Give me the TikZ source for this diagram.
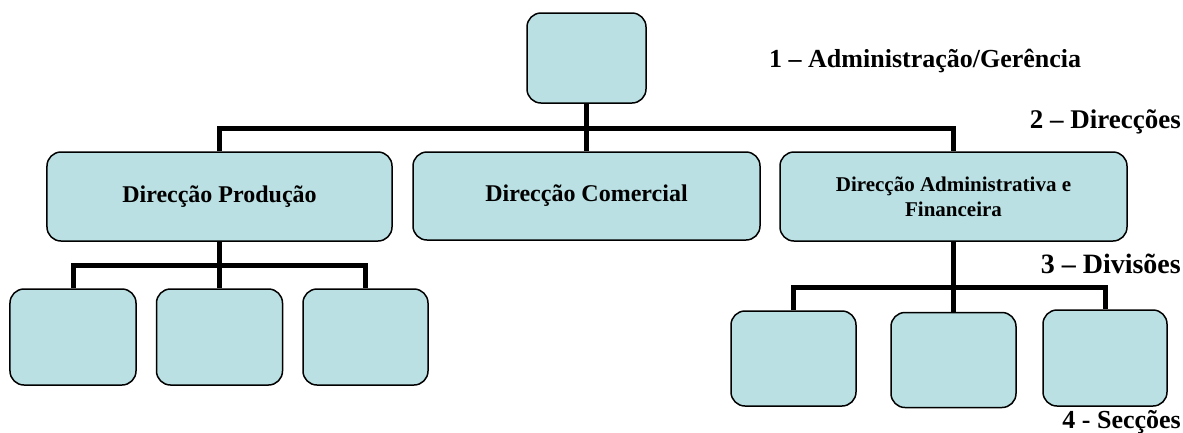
\documentclass[tikz,border=0pt]{standalone}
\usepackage{fontspec}
\setmainfont{Liberation Serif}
\definecolor{boxfill}{RGB}{186,224,227}
\begin{document}
\begin{tikzpicture}[x=1bp,y=-1bp,
  unit/.style={draw=black, line width=1.5bp, fill=boxfill, rounded corners=14bp,
    inner sep=0pt, align=center, font=\bfseries\fontsize{24bp}{28bp}\selectfont},
  link/.style={line width=5bp, line join=miter},
  level/.style={inner sep=0pt, font=\bfseries\fontsize{26bp}{30bp}\selectfont}]
\useasboundingbox (0,0) rectangle (1183,432);

% level 1
\node[unit, minimum width=119bp, minimum height=90bp] (top) at (586.5,58) {};

% level 2
\node[unit, minimum width=345bp, minimum height=89bp] (prod) at (219.5,196.5) {Direcção Produção};
\node[unit, minimum width=347bp, minimum height=88bp] (com) at (586.5,196) {Direcção Comercial};
\node[unit, minimum width=347bp, minimum height=89bp,
      font=\bfseries\fontsize{21bp}{25bp}\selectfont] (adm) at (953.5,196.5)
      {Direcção Administrativa e\\Financeira};

% level 3 under production
\node[unit, minimum width=126bp, minimum height=96bp] (l1) at (73,337) {};
\node[unit, minimum width=126bp, minimum height=96bp] (l2) at (219.5,337) {};
\node[unit, minimum width=125bp, minimum height=96bp] (l3) at (365.5,337) {};

% level 3 under administration/finance
\node[unit, minimum width=125bp, minimum height=95bp] (r1) at (793.5,358.5) {};
\node[unit, minimum width=125bp, minimum height=95bp] (r2) at (953.5,360) {};
\node[unit, minimum width=124bp, minimum height=96bp] (r3) at (1105,358) {};

% bus lines
\coordinate (b1) at (586.5,128);
\coordinate (b2) at (219.5,265);
\coordinate (b3) at (953.5,287);

\draw[link] (prod.north) |- (b1) -| (adm.north);
\draw[link] (top.south) -- (com.north);

\draw[link] (l1.north) |- (b2) -| (l3.north);
\draw[link] (prod.south) -- (l2.north);

\draw[link] (r1.north) |- (b3) -| (r3.north);
\draw[link] (adm.south) -- (r2.north);

% level captions
\node[level, anchor=base west] (lv1) at (769,67) {1 – Administração/Gerência};
\node[level, anchor=base east, font=\bfseries\fontsize{27bp}{30bp}\selectfont] (lv2) at (1181,128) {2 – Direcções};
\node[level, anchor=base east, font=\bfseries\fontsize{28bp}{30bp}\selectfont] (lv3) at (1181,273) {3 – Divisões};
\node[level, anchor=base east] (lv4) at (1181,428) {4 - Secções};
\end{tikzpicture}
\end{document}
